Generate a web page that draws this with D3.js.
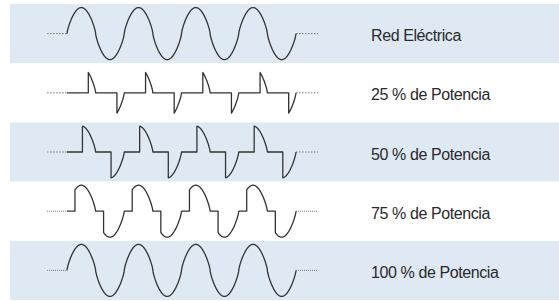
<!DOCTYPE html>
<html>
<head>
<meta charset="utf-8">
<script src="https://cdn.jsdelivr.net/npm/d3@7"></script>
<style>
  body { margin: 0; background: #fff; }
  svg { display: block; }
</style>
</head>
<body>
<div id="chart"></div>
<script>
// rows of the figure, top to bottom
const labels = ["Red Eléctrica", "25 % de Potencia", "50 % de Potencia", "75 % de Potencia", "100 % de Potencia"];
// firing (phase cut) angle in degrees for every half cycle, 0 = full sine
const firingAngles = [0, 134, 97, 50, 0];
// shaded rows
const shaded = [true, false, true, false, true];
const cycles = 4;

const width = 559, height = 301;

const svg = d3.select("#chart").append("svg")
    .attr("width", width)
    .attr("height", height);

// row positions
const yBand = d3.scaleBand()
    .domain(labels)
    .range([4, 300])
    .padding(0);

// phase (degrees) -> x
const xScale = d3.scaleLinear()
    .domain([0, cycles * 360])
    .range([67, 296]);

const amp = 26;

// background bands
svg.selectAll(".band")
    .data(labels)
    .enter()
    .append("rect")
    .attr("class", "band")
    .attr("x", 10)
    .attr("y", d => yBand(d))
    .attr("width", width - 10)
    .attr("height", yBand.bandwidth())
    .attr("fill", (d, i) => shaded[i] ? "#dfe9f4" : "#ffffff");

// the drawn lobes are a bit rounder than a pure sine
function lobe(t) {
    return Math.pow(Math.sin(t * Math.PI / 180), 0.75);
}

// build waveform points for one row
function wavePoints(alpha) {
    let pts = [];
    for (let h = 0; h < cycles * 2; h++) {
        let base = h * 180;
        let sign = h % 2 ? -1 : 1;
        pts.push([base, 0]);
        if (alpha > 0) pts.push([base + alpha, 0]);
        for (let t = alpha; t <= 180; t += 1) {
            pts.push([base + t, sign * lobe(t)]);
        }
    }
    return pts;
}

labels.forEach((lab, i) => {
    let cy = yBand(lab) + yBand.bandwidth() / 2;
    let yScale = d3.scaleLinear().domain([-1, 1]).range([cy + amp, cy - amp]);

    let line = d3.line()
        .x(d => xScale(d[0]))
        .y(d => yScale(d[1]));

    let g = svg.append("g").attr("class", "row");

    // dotted lead in / lead out
    g.selectAll(".lead")
        .data([[-125, 0], [cycles * 360, cycles * 360 + 140]])
        .enter()
        .append("line")
        .attr("class", "lead")
        .attr("x1", d => xScale(d[0]))
        .attr("x2", d => xScale(d[1]))
        .attr("y1", yScale(0))
        .attr("y2", yScale(0))
        .attr("stroke", "#777")
        .attr("stroke-width", 1)
        .attr("stroke-dasharray", i > 2 ? "1,1" : "1.5,1.5");

    g.append("path")
        .datum(wavePoints(firingAngles[i]))
        .attr("d", line)
        .attr("fill", "none")
        .attr("stroke", "#333")
        .attr("stroke-width", 1.3)
        .attr("stroke-linejoin", "round");

    g.append("text")
        .attr("x", 371)
        .attr("y", cy + 7.5)
        .attr("font-family", "'Liberation Sans', Arial, sans-serif")
        .attr("font-size", 16)
        .attr("letter-spacing", -0.4)
        .attr("fill", "#2a2a2a")
        .text(lab);
});
</script>
</body>
</html>
